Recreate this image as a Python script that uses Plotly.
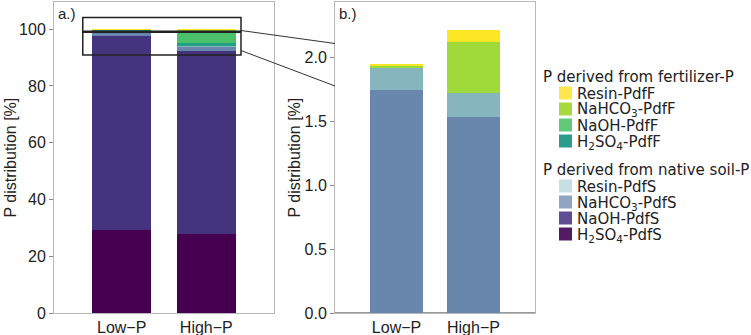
import plotly.graph_objects as go

# ---------------- data ----------------
categories = ["Low\u2212P", "High\u2212P"]

h2so4_pdfs = [29.3, 27.9]
naoh_pdfs = [68.4, 64.5]
nahco3_pdfs = [1.745, 1.53]
resin_pdfs = [0.17, 0.19]
h2so4_pdff = [0.20, 1.15]
naoh_pdff = [0.15, 4.23]
nahco3_pdff = [0.022, 0.40]
resin_pdff = [0.010, 0.096]

yticks_a = [0, 20, 40, 60, 80, 100]
yticks_b = [0.0, 0.5, 1.0, 1.5, 2.0]

series = [
    ("H<sub>2</sub>SO<sub>4</sub>-PdfS", h2so4_pdfs, "#45014f", "#521b63", "soil"),
    ("NaOH-PdfS", naoh_pdfs, "#44347e", "#5f4e94", "soil"),
    ("NaHCO<sub>3</sub>-PdfS", nahco3_pdfs, "#6987ac", "#8fa5c2", "soil"),
    ("Resin-PdfS", resin_pdfs, "#86b5bd", "#c6dfe2", "soil"),
    ("H<sub>2</sub>SO<sub>4</sub>-PdfF", h2so4_pdff, "#21a085", "#2a9d8c", "fert"),
    ("NaOH-PdfF", naoh_pdff, "#4bc16c", "#63c97a", "fert"),
    ("NaHCO<sub>3</sub>-PdfF", nahco3_pdff, "#9fda3a", "#a8d93e", "fert"),
    ("Resin-PdfF", resin_pdff, "#fde725", "#fde74c", "fert"),
]
panel_b_names = ["NaHCO<sub>3</sub>-PdfS", "Resin-PdfS", "NaHCO<sub>3</sub>-PdfF", "Resin-PdfF"]

# ---------------- geometry helpers (pixel -> paper) ----------------
W, H = 751, 335
ML, MR, MT, MB = 54, 216, 2, 22
PW = W - ML - MR
PH = H - MT - MB


def px(x):
    return (x - ML) / PW


def py(y):
    return (H - MB - y) / PH


fig = go.Figure()

for name, vals, col, _, _ in series:
    fig.add_trace(go.Bar(x=categories, y=vals, name=name, marker=dict(color=col, line=dict(width=0)),
                         width=0.7, xaxis="x", yaxis="y", showlegend=False))
for name, vals, col, _, _ in series:
    if name in panel_b_names:
        fig.add_trace(go.Bar(x=categories, y=vals, name=name, marker=dict(color=col, line=dict(width=0)),
                             width=0.7, xaxis="x2", yaxis="y2", showlegend=False))

tickfont = dict(family="Liberation Sans, Arial, sans-serif", size=16, color="#222")
frame = "#b8b8b8"
common_x = dict(type="category", range=[-0.8, 1.8], showline=True, linecolor=frame, linewidth=1,
                mirror=True, ticks="", ticklabelstandoff=0,
                tickfont=tickfont, showgrid=False, zeroline=False, fixedrange=True,
                automargin=False)
common_y = dict(showline=True, linecolor=frame, linewidth=1, mirror=True, ticks="outside",
                ticklen=4, tickcolor="#888", tickfont=tickfont, showgrid=False,
                automargin=False)

fig.update_layout(
    width=W, height=H,
    margin=dict(l=ML, r=MR, t=MT, b=MB, autoexpand=False),
    paper_bgcolor="white", plot_bgcolor="white",
    barmode="stack",
    xaxis=dict(domain=[0, px(274)], anchor="y", **common_x),
    yaxis=dict(domain=[0, 1], anchor="x", range=[0, 109.6], tickvals=yticks_a, zeroline=False,
               **common_y),
    xaxis2=dict(domain=[px(335), 1], anchor="y2", **common_x),
    yaxis2=dict(domain=[0, 1], anchor="x2", range=[0, 2.433], tickvals=yticks_b,
                tickformat=".1f", zeroline=True, zerolinecolor="#999", zerolinewidth=1.5,
                **common_y),
    showlegend=False,
)

# axis titles
for xpix in (10, 294):
    fig.add_annotation(text="P distribution [%]", textangle=-90, xref="paper", yref="paper",
                       x=px(xpix), y=0.5, xanchor="center", yanchor="middle", showarrow=False,
                       font=dict(family="Liberation Sans, Arial, sans-serif", size=16, color="#222"))

# panel labels
for lab, xpix in (("a.)", 56), ("b.)", 337)):
    fig.add_annotation(text=lab, xref="paper", yref="paper", x=px(xpix), y=py(3),
                       xanchor="left", yanchor="top", showarrow=False,
                       font=dict(family="Liberation Sans, Arial, sans-serif", size=15, color="#222"))

# zoom rectangles in panel a
fig.add_shape(type="rect", xref="x", yref="y", x0=-0.46, x1=1.41, y0=99.3, y1=104.1,
              line=dict(color="#222", width=1.5), fillcolor="rgba(0,0,0,0)")
fig.add_shape(type="rect", xref="x", yref="y", x0=-0.46, x1=1.41, y0=90.9, y1=98.9,
              line=dict(color="#222", width=1.5), fillcolor="rgba(0,0,0,0)")
# connector lines
fig.add_shape(type="line", xref="paper", yref="paper", x0=px(241), y0=py(30.5), x1=px(335), y1=py(43.5),
              line=dict(color="#333", width=1))
fig.add_shape(type="line", xref="paper", yref="paper", x0=px(241), y0=py(50.5), x1=px(335), y1=py(86),
              line=dict(color="#333", width=1))

# manual legend
legfont = dict(family="DejaVu Sans, Verdana, sans-serif", size=15, color="#222")
groups = [("P derived from fertilizer-P", "fert", 77), ("P derived from native soil-P", "soil", 170)]
for title, key, ty in groups:
    fig.add_annotation(text=title, xref="paper", yref="paper", x=px(541), y=py(ty),
                       xanchor="left", yanchor="middle", showarrow=False, font=legfont)
    items = [s for s in series if s[4] == key][::-1]
    for i, (name, _, _, lcol, _) in enumerate(items):
        cy = ty + 17 + 16 * i
        fig.add_shape(type="rect", xref="paper", yref="paper", x0=px(559), x1=px(572),
                      y0=py(cy - 7.5), y1=py(cy + 5.5), line=dict(width=0), fillcolor=lcol)
        fig.add_annotation(text=name, xref="paper", yref="paper", x=px(575), y=py(cy),
                           xanchor="left", yanchor="middle", showarrow=False, font=legfont)

fig.write_html("out.html")
